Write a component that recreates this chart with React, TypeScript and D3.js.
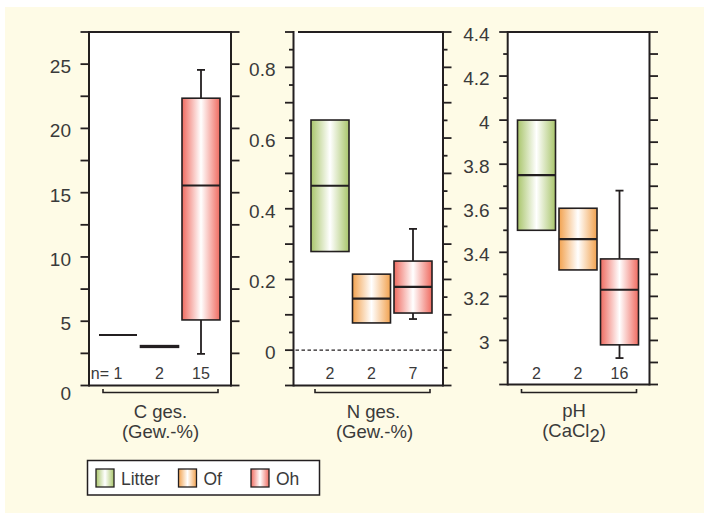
import React from 'react';
import * as d3 from 'd3';

// Horizons and their fill colours
const horizons = ['Litter', 'Of', 'Oh'];
const horizonColors = ['#a9c56b', '#f2a24f', '#ef6b60'];

// C ges. (Gew.-%)
const cCount = [1, 2, 15];
const cLow: (number | null)[] = [null, null, 2.46];
const cQ1 = [3.93, 2.97, 5.1];
const cMedian = [3.93, 3.03, 15.56];
const cQ3 = [3.93, 3.1, 22.35];
const cHigh: (number | null)[] = [null, null, 24.55];
const cTickLabels = [0, 5, 10, 15, 20, 25];

// N ges. (Gew.-%)
const nCount = [2, 2, 7];
const nLow: (number | null)[] = [null, null, 0.088];
const nQ1 = [0.279, 0.077, 0.105];
const nMedian = [0.465, 0.146, 0.179];
const nQ3 = [0.651, 0.215, 0.252];
const nHigh: (number | null)[] = [null, null, 0.343];
const nTickLabels = [0, 0.2, 0.4, 0.6, 0.8];

// pH (CaCl2)
const phCount = [2, 2, 16];
const phLow: (number | null)[] = [null, null, 2.92];
const phQ1 = [3.5, 3.32, 2.98];
const phMedian = [3.75, 3.46, 3.23];
const phQ3 = [4.0, 3.6, 3.37];
const phHigh: (number | null)[] = [null, null, 3.68];
const phTickLabels = [3, 3.2, 3.4, 3.6, 3.8, 4, 4.2, 4.4];

const INK = '#231f20';
const TEXT = '#3a3a3a';
const FONT = '"Liberation Sans", Arial, sans-serif';

type Stats = {
  count: number[];
  low: (number | null)[];
  q1: number[];
  median: number[];
  q3: number[];
  high: (number | null)[];
};

type PanelSpec = {
  left: number;
  right: number;
  frameTopStart: number;
  top: number;
  bottom: number;
  domain: [number, number];
  minorStep: number;
  majorEvery: number | null; // multiples that get long ticks on the left
  rightMinorShort: boolean;
  labels: number[];
  format: (v: number) => string;
  stats: Stats;
  zeroLine: boolean;
  title: React.ReactNode;
  showNPrefix: boolean;
  leftAxisX: number;
};

const isMultiple = (v: number, step: number) => {
  const r = v / step;
  return Math.abs(r - Math.round(r)) < 1e-6;
};

function Panel({ p }: { p: PanelSpec }) {
  const y = d3.scaleLinear().domain(p.domain).range([p.bottom, p.top]);
  const x = d3
    .scalePoint<string>()
    .domain(horizons)
    .range([p.right - 113, p.right - 30]);
  const boxW = 38;
  const capW = 8;

  const ticks = d3.range(p.domain[0], p.domain[1] + p.minorStep / 2, p.minorStep);
  const tickLen = (v: number, shortMinor: boolean) => {
    if (!shortMinor || p.majorEvery === null) return 8.5;
    return isMultiple(v, p.majorEvery) ? 8.5 : 4.5;
  };

  const s = p.stats;
  const labelY = 379;

  return (
    <g>
      <rect x={p.leftAxisX} y={p.top} width={p.right - p.leftAxisX} height={p.bottom - p.top} fill="#ffffff" />
      {/* frame lines */}
      <line x1={p.leftAxisX} x2={p.leftAxisX} y1={p.top - 1} y2={p.bottom + 1} stroke={INK} strokeWidth={2} />
      <line x1={p.right} x2={p.right} y1={p.top - 1} y2={p.bottom + 1} stroke={INK} strokeWidth={2} />
      <line x1={p.frameTopStart} x2={p.right} y1={p.top} y2={p.top} stroke={INK} strokeWidth={2} />
      <line x1={p.leftAxisX} x2={p.right} y1={p.bottom} y2={p.bottom} stroke={INK} strokeWidth={2} />

      {/* left ticks */}
      {ticks.map((v, i) => (
        <line
          key={'l' + i}
          x1={p.leftAxisX - tickLen(v, true)}
          x2={p.leftAxisX}
          y1={y(v)}
          y2={y(v)}
          stroke={INK}
          strokeWidth={1.8}
        />
      ))}
      {/* right ticks */}
      {ticks.map((v, i) => (
        <line
          key={'r' + i}
          x1={p.right}
          x2={p.right + tickLen(v, p.rightMinorShort)}
          y1={y(v)}
          y2={y(v)}
          stroke={INK}
          strokeWidth={1.8}
        />
      ))}
      {/* tick labels */}
      {p.labels.map((v, i) => (
        <text
          key={'t' + i}
          x={p.leftAxisX - 18}
          y={v === 0 && p.domain[0] === 0 ? 400 : y(v) + 9}
          textAnchor="end"
          fontSize={19}
          fontFamily={FONT}
          fill={TEXT}
        >
          {p.format(v)}
        </text>
      ))}

      {p.zeroLine && (
        <line
          x1={p.leftAxisX + 2}
          x2={p.right}
          y1={y(0)}
          y2={y(0)}
          stroke={INK}
          strokeWidth={1.3}
          strokeDasharray="3.5,2.5"
        />
      )}

      {/* boxes */}
      {horizons.map((h, i) => {
        const cx = x(h) as number;
        const lo = s.low[i];
        const hi = s.high[i];
        if (s.count[i] === 1) {
          return (
            <line
              key={h}
              x1={cx - boxW / 2}
              x2={cx + boxW / 2}
              y1={y(s.median[i])}
              y2={y(s.median[i])}
              stroke={INK}
              strokeWidth={2.2}
            />
          );
        }
        return (
          <g key={h}>
            {hi !== null && (
              <>
                <line x1={cx} x2={cx} y1={y(hi)} y2={y(s.q3[i])} stroke={INK} strokeWidth={1.8} />
                <line x1={cx - capW / 2} x2={cx + capW / 2} y1={y(hi)} y2={y(hi)} stroke={INK} strokeWidth={1.8} />
              </>
            )}
            {lo !== null && (
              <>
                <line x1={cx} x2={cx} y1={y(lo)} y2={y(s.q1[i])} stroke={INK} strokeWidth={1.8} />
                <line x1={cx - capW / 2} x2={cx + capW / 2} y1={y(lo)} y2={y(lo)} stroke={INK} strokeWidth={1.8} />
              </>
            )}
            <rect
              x={cx - boxW / 2}
              y={y(s.q3[i])}
              width={boxW}
              height={y(s.q1[i]) - y(s.q3[i])}
              fill={`url(#grad-${i})`}
              stroke={INK}
              strokeWidth={1.6}
            />
            <line
              x1={cx - boxW / 2}
              x2={cx + boxW / 2}
              y1={y(s.median[i])}
              y2={y(s.median[i])}
              stroke={INK}
              strokeWidth={2.2}
            />
          </g>
        );
      })}

      {/* sample sizes */}
      {horizons.map((h, i) => (
        <text
          key={'n' + h}
          x={x(h) as number}
          y={labelY}
          textAnchor="middle"
          fontSize={16}
          fontFamily={FONT}
          fill={TEXT}
        >
          {s.count[i]}
        </text>
      ))}
      {p.showNPrefix && (
        <text
          x={(x(horizons[0]) as number) - 9}
          y={labelY}
          textAnchor="end"
          fontSize={16}
          fontFamily={FONT}
          fill={TEXT}
        >
          n=
        </text>
      )}

      {/* bracket and title */}
      <path
        d={`M${p.right - 128},${389} V${392.5} H${p.right - 13} V${389}`}
        fill="none"
        stroke={INK}
        strokeWidth={1.6}
      />
      {p.title}
    </g>
  );
}

export default function App() {
  const fmt1 = (v: number) => (v === 0 ? '0' : v.toFixed(1));
  const fmtPh = (v: number) => (Number.isInteger(v) ? String(v) : v.toFixed(1));

  const titleProps = { textAnchor: 'middle' as const, fontSize: 18.5, fontFamily: FONT, fill: TEXT };

  const panels: PanelSpec[] = [
    {
      left: 89,
      right: 231,
      leftAxisX: 89,
      frameTopStart: 89,
      top: 32,
      bottom: 385.5,
      domain: [0, 27.5],
      minorStep: 2.5,
      majorEvery: null,
      rightMinorShort: false,
      labels: cTickLabels,
      format: (v) => String(v),
      stats: { count: cCount, low: cLow, q1: cQ1, median: cMedian, q3: cQ3, high: cHigh },
      zeroLine: false,
      showNPrefix: true,
      title: (
        <g>
          <text x={160.5} y={418} {...titleProps}>C ges.</text>
          <text x={160.5} y={438} {...titleProps}>(Gew.-%)</text>
        </g>
      ),
    },
    {
      left: 294,
      right: 443,
      leftAxisX: 293.5,
      frameTopStart: 298,
      top: 32,
      bottom: 385.5,
      domain: [-0.1, 0.9],
      minorStep: 0.05,
      majorEvery: 0.1,
      rightMinorShort: true,
      labels: nTickLabels,
      format: fmt1,
      stats: { count: nCount, low: nLow, q1: nQ1, median: nMedian, q3: nQ3, high: nHigh },
      zeroLine: true,
      showNPrefix: false,
      title: (
        <g>
          <text x={373.5} y={418} {...titleProps}>N ges.</text>
          <text x={374.5} y={438} {...titleProps}>(Gew.-%)</text>
        </g>
      ),
    },
    {
      left: 507.7,
      right: 649.5,
      leftAxisX: 507.7,
      frameTopStart: 507.7,
      top: 32,
      bottom: 384.5,
      domain: [2.8, 4.4],
      minorStep: 0.1,
      majorEvery: 0.2,
      rightMinorShort: false,
      labels: phTickLabels,
      format: fmtPh,
      stats: { count: phCount, low: phLow, q1: phQ1, median: phMedian, q3: phQ3, high: phHigh },
      zeroLine: false,
      showNPrefix: false,
      title: (
        <g>
          <text x={574} y={417} {...titleProps}>pH</text>
          <text x={574} y={437} {...titleProps}>
            (CaCl<tspan dy={5} fontSize={18.5}>2</tspan>
            <tspan dy={-5}>)</tspan>
          </text>
        </g>
      ),
    },
  ];

  const legendX = [96, 178.5, 251];

  return (
    <svg
      width={704}
      height={513}
      viewBox="0 0 704 513"
      style={{ position: 'absolute', left: 0, top: 0, display: 'block' }}
    >
      <defs>
        {horizonColors.map((c, i) => (
          <linearGradient key={i} id={`grad-${i}`} x1="0" x2="1" y1="0" y2="0">
            <stop offset="0" stopColor={c} />
            <stop offset="0.5" stopColor="#ffffff" />
            <stop offset="1" stopColor={c} />
          </linearGradient>
        ))}
      </defs>
      <rect x={0} y={0} width={704} height={513} fill="#ffffff" />
      <rect x={5} y={7} width={699} height={506} fill="#fefbe6" />

      {panels.map((p, i) => (
        <Panel key={i} p={p} />
      ))}

      {/* legend */}
      <rect x={87.5} y={460.5} width={232} height={34.5} fill="#ffffff" stroke={INK} strokeWidth={1.5} />
      {horizons.map((h, i) => (
        <g key={h}>
          <rect
            x={legendX[i]}
            y={469}
            width={18}
            height={18}
            fill={`url(#grad-${i})`}
            stroke={INK}
            strokeWidth={1.3}
          />
          <text x={legendX[i] + 25} y={484.5} fontSize={17.5} fontFamily={FONT} fill={TEXT}>
            {h}
          </text>
        </g>
      ))}
    </svg>
  );
}
